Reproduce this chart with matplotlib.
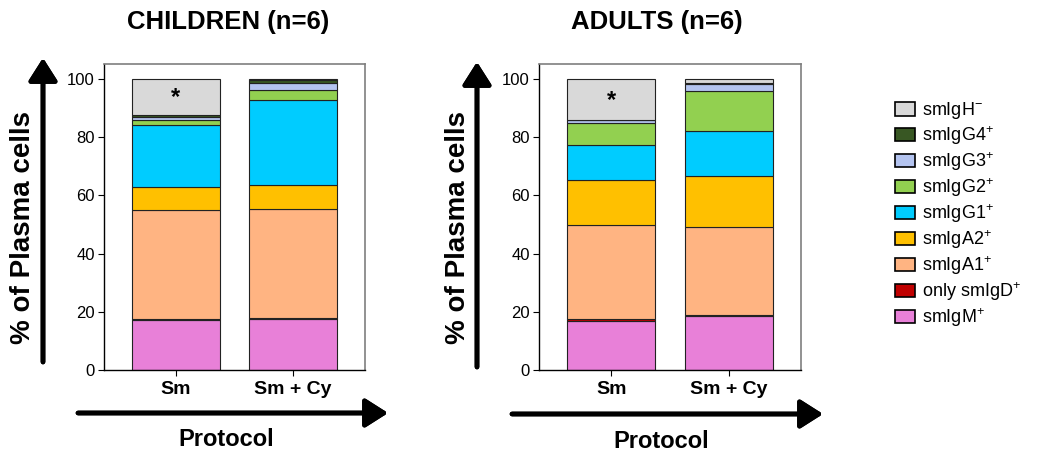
import matplotlib
matplotlib.use('Agg')
import matplotlib.pyplot as plt
from matplotlib.patches import Patch
import numpy as np

plt.rcParams['font.family'] = ['Liberation Sans', 'DejaVu Sans']
plt.rcParams['mathtext.fontset'] = 'custom'
plt.rcParams['mathtext.rm'] = 'Liberation Sans'

##------data (percent of plasma cells, stacked bottom -> top)
protocols = ['Sm', 'Sm + Cy']
subsets = ['smIgM$^{+}$', 'only smIgD$^{+}$', 'smIgA1$^{+}$', 'smIgA2$^{+}$',
           'smIgG1$^{+}$', 'smIgG2$^{+}$', 'smIgG3$^{+}$', 'smIgG4$^{+}$', 'smIgH$^{-}$']
colors = ['#e880d8', '#c00000', '#ffb482', '#ffc000',
          '#00ccff', '#92d050', '#b4c4f0', '#385723', '#d9d9d9']

children_sm = [17.2, 0.2, 37.6, 7.9, 21.1, 1.8, 1.0, 0.9, 12.3]
children_smcy = [17.6, 0.1, 37.6, 8.4, 29.1, 3.4, 2.4, 1.1, 0.3]
adults_sm = [17.0, 0.6, 32.1, 15.6, 12.0, 7.5, 1.0, 0.1, 14.1]
adults_smcy = [18.5, 0.4, 30.1, 17.6, 15.6, 13.6, 2.5, 0.2, 1.5]

W, H = 1037, 455
fig = plt.figure(figsize=(W / 100, H / 100), dpi=100)


def panel(left_px, right_px, sm, smcy):
    ax = fig.add_axes([left_px / W, (H - 370) / H,
                       (right_px - left_px) / W, (370 - 63.5) / H])
    data = np.array([sm, smcy])
    x = np.arange(len(protocols))
    bottom = np.zeros(len(protocols))
    for k in range(len(subsets)):
        ax.bar(x, data[:, k], 0.75, bottom=bottom, color=colors[k],
               edgecolor='#222222', linewidth=0.8)
        bottom += data[:, k]
    # asterisk on smIgH- of first bar
    h_bot = data[0, :-1].sum()
    ax.text(0, h_bot + data[0, -1] / 2 - 0.3, '*', ha='center', va='center',
            fontsize=17, fontweight='bold')
    ax.set_xlim(-0.615, 1.615)
    ax.set_ylim(0, 105.3)
    ax.set_yticks([0, 20, 40, 60, 80, 100])
    ax.set_xticks(x)
    ax.set_xticklabels(protocols, fontsize=14, fontweight='bold')
    ax.tick_params(axis='y', labelsize=12, length=4, width=0.8, pad=2.5)
    ax.tick_params(axis='x', length=4, width=0.8, pad=4)
    for s in ['top', 'right']:
        ax.spines[s].set_color('#7f7f7f')
        ax.spines[s].set_linewidth(1.2)
    for s in ['left', 'bottom']:
        ax.spines[s].set_color('black')
        ax.spines[s].set_linewidth(1.0)
    return ax


ax1 = panel(104, 365, children_sm, children_smcy)
ax2 = panel(539, 801, adults_sm, adults_smcy)

# titles and labels
fig.text(228 / W, 1 - 29 / H, 'CHILDREN (n=6)', ha='center', va='baseline',
         fontsize=18.5, fontweight='bold')
fig.text(657 / W, 1 - 29 / H, 'ADULTS (n=6)', ha='center', va='baseline',
         fontsize=18.5, fontweight='bold')
for xc in [23, 458]:
    fig.text(xc / W, 1 - 227 / H, '% of Plasma cells', ha='center', va='center',
             rotation=90, fontsize=20, fontweight='bold')
for xc, yc in [(226, 440), (661, 441)]:
    fig.text(xc / W, 1 - yc / H, 'Protocol', ha='center', va='center',
             fontsize=17, fontweight='bold')

# arrows (figure pixels, origin bottom-left)
arr = dict(arrowstyle='-|>,head_length=0.55,head_width=0.35', lw=3.4,
           color='black', mutation_scale=25, shrinkA=0, shrinkB=0)
for (x0, y0, x1, y1) in [(43, 362, 43, 58), (78, 413, 388, 413),
                         (477, 367, 477, 62), (512, 414, 823, 414)]:
    fig.add_artist(plt.annotate('', xy=(x1, H - y1), xytext=(x0, H - y0),
                                xycoords='figure pixels', textcoords='figure pixels',
                                arrowprops=arr))

# legend, smIgH- on top
handles = [Patch(facecolor=colors[k], edgecolor='black', linewidth=1.2)
           for k in range(len(subsets))][::-1]
fig.legend(handles, subsets[::-1], loc='upper left',
           bbox_to_anchor=(895 / W, 1 - 100 / H), frameon=False, fontsize=13,
           handlelength=1.1, handleheight=0.78, handletextpad=0.4,
           labelspacing=0.18, borderaxespad=0, borderpad=0)

fig.savefig('out.png', dpi=100)
